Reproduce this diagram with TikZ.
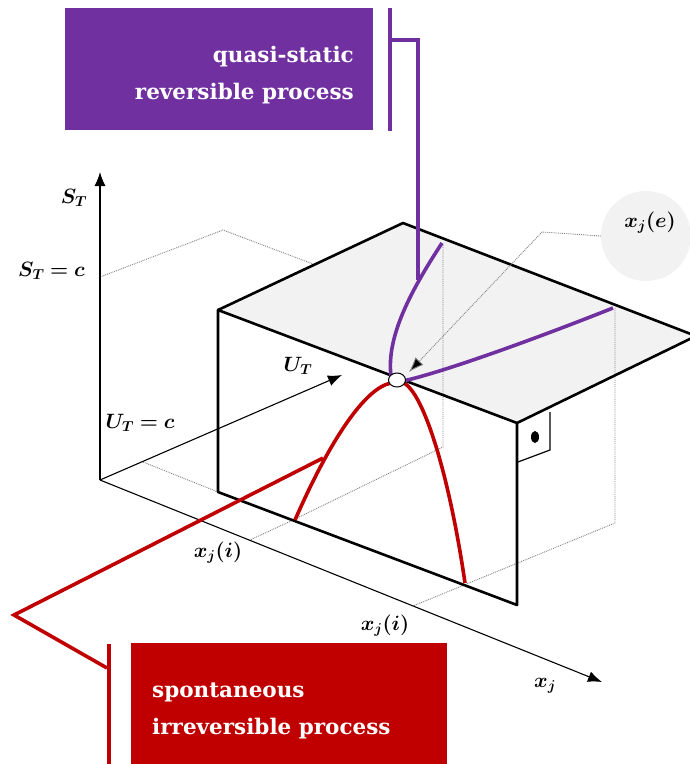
\documentclass[tikz,border=0pt]{standalone}
\usepackage{amsmath,bm}
\usepackage{fontspec}
\newfontfamily\boxfont{DejaVu Serif}
\usetikzlibrary{arrows.meta,shapes.geometric}
\definecolor{purp}{HTML}{7030A0}
\definecolor{darkred}{HTML}{C00000}
\definecolor{facegray}{HTML}{F2F2F2}
\begin{document}
\begin{tikzpicture}[x=1pt,y=-1pt,
  boxedge/.style={line width=2.6pt, line join=round},
  axisline/.style={line width=1.1pt, -{Latex[length=14pt,width=11pt]}},
  dotline/.style={gray, densely dotted, line width=0.9pt},
  pcurve/.style={purp, line width=3.6pt},
  rcurve/.style={darkred, line width=3.6pt},
  mlbl/.style={inner sep=0pt, font=\fontsize{21}{24}\selectfont},
  labelbox/.style={draw=none, inner sep=0pt, rectangle},
  boxtext/.style={text=white, inner sep=0pt, font=\boxfont\bfseries\fontsize{21.5}{24}\selectfont}
]
\useasboundingbox (0,0) rectangle (690,764);
\clip (0,0) rectangle (690,764);

% coordinates
\coordinate (O) at (100,480);
\coordinate (Stip) at (100,172);
\coordinate (Utip) at (342,375);
\coordinate (Xtip) at (602,682);
\coordinate (A) at (218,310);
\coordinate (B) at (403,223);
\coordinate (C) at (696,336);
\coordinate (D) at (517,423);
\coordinate (E) at (218,492);
\coordinate (F) at (517,605);

% top face
\fill[facegray] (A) -- (B) -- (C) -- (D) -- cycle;

% dotted guide lines
\coordinate (Sc) at (100,277);
\coordinate (Sc1) at (223,230);
\coordinate (Sc2) at (313,264);
\draw[dotline] (Sc) -- (Sc1) -- (Sc2);
\coordinate (Uc) at (143,462);
\draw[dotline] (Uc) -- (E);
\coordinate (L1) at (443,245);
\coordinate (L2) at (443,447);
\coordinate (L3) at (293,520);
\coordinate (L4) at (250,540);
\draw[dotline] (L1) -- (L2) -- (L3) -- (L4);
\coordinate (R1) at (615,308);
\coordinate (R2) at (615,523);
\coordinate (R3) at (465,583);
\coordinate (R4) at (413,606);
\draw[dotline] (R1) -- (R2) -- (R4);

% axes
\draw[axisline] (O) -- (Stip);
\draw[axisline] (O) -- (Utip);
\draw[axisline] (O) -- (Xtip);

% box edges
\draw[boxedge] (A) -- (B) -- (C);
\draw[boxedge] (C) -- (D) -- (A) -- (E) -- (F) -- (D);

% small marker with dot
\coordinate (M1) at (550,412);
\coordinate (M2) at (550,450);
\coordinate (M3) at (518,462);
\draw[line width=1.2pt] (M1) -- (M2) -- (M3);
\fill (535,437) ellipse[x radius=4pt, y radius=6pt];

% equilibrium circle label
\node[circle, fill=facegray, minimum size=90pt, inner sep=0pt] (eqc) at (646,236) {};
\node[mlbl] (xe) at (650,223) {$\bm{x_j(e)}$};

% node point
\coordinate (N) at (397,380);

% purple curve (quasi-static)
\coordinate (P0) at (442,243);
\coordinate (PJ) at (418,280);
\coordinate (P5) at (613,308);
\draw[pcurve] (P0) .. controls (412,289) and (386,336) .. (391,376);
\draw[pcurve] (403,381) .. controls (440,373) and (530,341) .. (P5);

% red curve (spontaneous)
\coordinate (Q0) at (295,520);
\coordinate (QJ) at (323,458);
\draw[rcurve] (391,383) .. controls (365,388) and (330,440) .. (Q0);
\draw[rcurve] (404,383) .. controls (425,395) and (450,480) .. (R3);

% dotted leader with arrow to the point
\coordinate (e1) at (542,232);
\coordinate (e2) at (409,372);
\draw[dotline, -{Latex[length=15pt,width=11pt,fill=black]}] (eqc.west) -- (e1) -- (e2);

% open circle at the point
\node[ellipse, draw, fill=white, line width=1pt, minimum width=17pt, minimum height=14pt, inner sep=0pt] (pt) at (N) {};

% axis labels
\node[mlbl] (lST) at (74,198) {$\bm{S_T}$};
\node[mlbl, anchor=east] (lSTc) at (85,271) {$\bm{S_T = c}$};
\node[mlbl] (lUT) at (298,366) {$\bm{U_T}$};
\node[mlbl] (lUTc) at (140,423) {$\bm{U_T = c}$};
\node[mlbl] (lxi1) at (218,553) {$\bm{x_j(i)}$};
\node[mlbl] (lxi2) at (385,626) {$\bm{x_j(i)}$};
\node[mlbl] (lxj) at (545,686) {$\bm{x_j}$};

% purple label box and leader
\node[labelbox, fill=purp, minimum width=308pt, minimum height=122pt] (qbox) at (219,69) {};
\node[boxtext, anchor=base east] (qtext1) at (354,62) {quasi-static};
\node[boxtext, anchor=base east] (qtext2) at (354,99) {reversible process};
\coordinate (qb1) at (390,8);
\coordinate (qb2) at (390,131);
\draw[purp, line width=4.5pt] (qb1) -- (qb2);
\coordinate (qk1) at (391,40);
\coordinate (qk2) at (418,40);
\draw[purp, line width=3.6pt, line join=miter] (qk1) -- (qk2) -- (PJ);

% red label box and leader
\node[labelbox, fill=darkred, minimum width=316pt, minimum height=130pt] (sbox) at (289,708) {};
\node[boxtext, anchor=base west] (stext1) at (152,697) {spontaneous};
\node[boxtext, anchor=base west] (stext2) at (152,734) {irreversible process};
\coordinate (sb1) at (109,644);
\coordinate (sb2) at (109,770);
\draw[darkred, line width=4.5pt] (sb1) -- (sb2);
\coordinate (sk1) at (107,668);
\coordinate (sk2) at (14,615);
\draw[darkred, line width=3.6pt, line join=miter] (sk1) -- (sk2) -- (QJ);
\end{tikzpicture}
\end{document}
